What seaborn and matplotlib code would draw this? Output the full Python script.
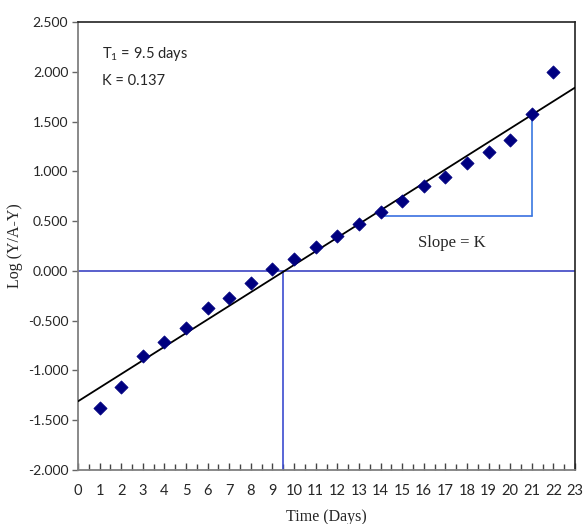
import numpy as np
import pandas as pd
import matplotlib
matplotlib.use("Agg")
import matplotlib.pyplot as plt
import seaborn as sns
from matplotlib.ticker import MultipleLocator, FormatStrFormatter

days = [1, 2, 3, 4, 5, 6, 7, 8, 9, 10, 11, 12, 13, 14, 15, 16, 17, 18, 19, 20, 21, 22]
log_vals = [-1.38, -1.17, -0.855, -0.715, -0.57, -0.373, -0.27, -0.12, 0.018, 0.12,
            0.24, 0.35, 0.47, 0.59, 0.70, 0.85, 0.94, 1.08, 1.19, 1.31, 1.58, 2.00]
fit_slope = 0.137
fit_intercept = -1.31
fit_x = [0, 23]
t_half = 9.5
tri_x = [14, 21, 21]
tri_y = [0.55, 0.55, 1.58]
x_ticks = list(range(0, 24))
y_ticks = [-2.0, -1.5, -1.0, -0.5, 0.0, 0.5, 1.0, 1.5, 2.0, 2.5]

sns.set_theme(style="white")
plt.rcParams['font.family'] = ['Lato', 'DejaVu Sans']
plt.rcParams['mathtext.fontset'] = 'custom'
plt.rcParams['mathtext.rm'] = 'Lato'
plt.rcParams['mathtext.it'] = 'Lato'

fig = plt.figure(figsize=(5.83, 5.24), dpi=100)
ax = fig.add_axes([78/583, (524-470)/524, (575-78)/583, (470-22)/524])

df = pd.DataFrame({"day": days, "val": log_vals})
fit_df = pd.DataFrame({"x": fit_x, "y": [fit_slope*x + fit_intercept for x in fit_x]})

# reference lines
ax.plot([0, 23], [0, 0], color="#3c44c4", lw=1.2, zorder=2)
ax.plot([t_half, t_half], [-2.0, 0.0], color="#3c4cd0", lw=1.2, zorder=2)
ax.plot([tri_x[0], tri_x[1]], [tri_y[0], tri_y[1]], color="#3a70e0", lw=1.2, zorder=2)
ax.plot([tri_x[1], tri_x[2]], [tri_y[1], tri_y[2]], color="#3a78e0", lw=1.2, zorder=2)

sns.lineplot(data=fit_df, x="x", y="y", ax=ax, color="black", lw=1.3, zorder=3)
sns.scatterplot(data=df, x="day", y="val", ax=ax, marker="D", s=45, color="#000080",
                edgecolor="#000080", zorder=4)

ax.set_xlim(0, 23)
ax.set_ylim(-2.0, 2.5)
ax.set_xticks(x_ticks)
ax.set_yticks(y_ticks)
ax.xaxis.set_minor_locator(MultipleLocator(0.5))
ax.yaxis.set_major_formatter(FormatStrFormatter("%.3f"))
ax.tick_params(axis="x", which="major", direction="in", length=5, width=1, color="#444444",
               labelsize=10.5, pad=10, bottom=True)
ax.tick_params(axis="x", which="minor", direction="in", length=4, width=1, color="#444444", bottom=True)
ax.tick_params(axis="y", which="major", direction="out", length=4, width=1, color="#666666",
               labelsize=10, pad=3, left=True)

for side in ["left", "bottom"]:
    ax.spines[side].set_color("#808080")
    ax.spines[side].set_linewidth(1.3)
for side in ["top", "right"]:
    ax.spines[side].set_color("#222222")
    ax.spines[side].set_linewidth(1.2)

ax.set_xlabel("Time (Days)", family="Liberation Serif", fontsize=11.5, labelpad=8)
ax.set_ylabel("Log (Y/A-Y)", family="Liberation Serif", fontsize=11.5, labelpad=3)

ax.text(1.1, 2.18, "T$_1$ = 9.5 days", fontsize=10.5, ha="left", va="center")
ax.text(1.1, 1.91, "K = 0.137", fontsize=10.5, ha="left", va="center")
ax.text(17.3, 0.28, "Slope = K", family="Liberation Serif", fontsize=12, ha="center", va="center")

fig.savefig("out.png", dpi=100)
